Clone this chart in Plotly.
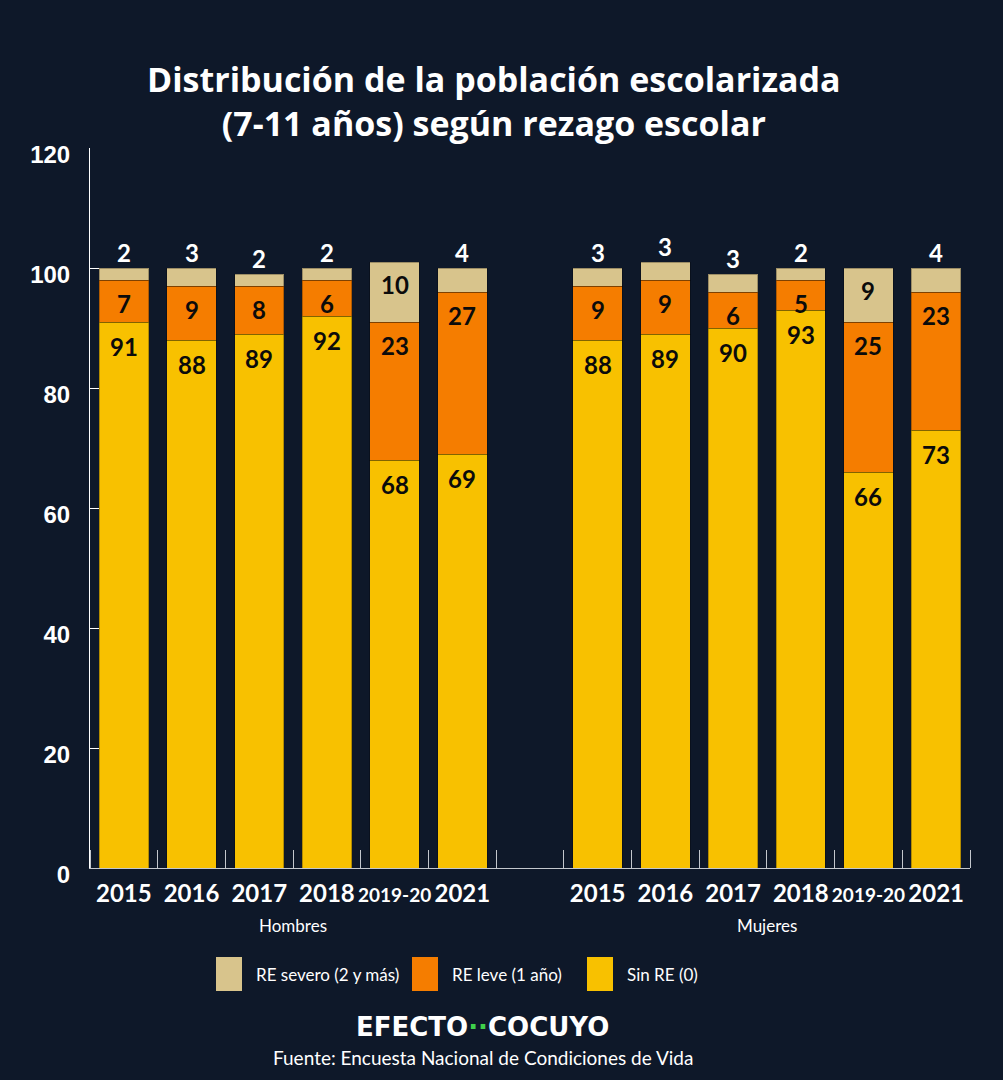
import plotly.graph_objects as go

# ---------------- data ----------------
years = ["2015", "2016", "2017", "2018", "2019-20", "2021"]
groups = ["Hombres", "Mujeres"]

series_names = ["Sin RE (0)", "RE leve (1 año)", "RE severo (2 y más)"]

hombres_sin = [91, 88, 89, 92, 68, 69]
hombres_leve = [7, 9, 8, 6, 23, 27]
hombres_severo = [2, 3, 2, 2, 10, 4]

mujeres_sin = [88, 89, 90, 93, 66, 73]
mujeres_leve = [9, 9, 6, 5, 25, 23]
mujeres_severo = [3, 3, 3, 2, 9, 4]

y_ticks = [0, 20, 40, 60, 80, 100, 120]

title_text = "Distribución de la población escolarizada<br>(7-11 años) según rezago escolar"
source_text = "Fuente: Encuesta Nacional de Condiciones de Vida"

# ---------------- style ----------------
BG = "#0e1829"
COLORS = {"Sin RE (0)": "#f8c100", "RE leve (1 año)": "#f57d00", "RE severo (2 y más)": "#d8c48c"}
AXIS_COLOR = "#c3c7cd"
FONT = "Lato"
W, H = 1003, 1080
ML, MR, MT, MB = 90, 33, 148, 212
PW, PH = W - ML - MR, H - MT - MB


def px_x(x):
    return (x - ML) / PW


def px_y(y):
    return (H - MB - y) / PH


# positions: one empty slot between the two groups
n = len(years)
x_h = [i for i in range(n)]
x_m = [i + n + 1 for i in range(n)]
xs = x_h + x_m

sin_vals = hombres_sin + mujeres_sin
leve_vals = hombres_leve + mujeres_leve
sev_vals = hombres_severo + mujeres_severo

fig = go.Figure()
for name, vals in zip(series_names, [sin_vals, leve_vals, sev_vals]):
    fig.add_trace(go.Bar(
        x=xs, y=vals, name=name,
        marker=dict(color=COLORS[name], line=dict(width=1, color="rgba(0,0,0,0.28)")),
        hoverinfo="skip", showlegend=False,
    ))

annotations = []
lab_font = dict(family=FONT, size=24, color="#0b0b0b", weight="bold")
for x, s, l, v in zip(xs, sin_vals, leve_vals, sev_vals):
    annotations.append(dict(x=x, y=s, text=str(s), showarrow=False, yanchor="top",
                            yshift=-8, font=lab_font))
    annotations.append(dict(x=x, y=s + l, text=str(l), showarrow=False, yanchor="top",
                            yshift=-7, font=lab_font))
    tot = s + l + v
    if v >= 5:
        annotations.append(dict(x=x, y=tot, text=str(v), showarrow=False, yanchor="top",
                                yshift=-6, font=lab_font))
    else:
        annotations.append(dict(x=x, y=tot, text=str(v), showarrow=False, yanchor="bottom",
                                yshift=-1, font=dict(family=FONT, size=24, color="white", weight="bold")))

# title
annotations.append(dict(x=px_x(494), xref="paper", y=px_y(101), yref="paper",
                        text=title_text, showarrow=False, xanchor="center", yanchor="middle",
                        font=dict(family="Open Sans", size=34, color="white", weight="bold")))

# group labels
for g, gx in zip(groups, [x_h, x_m]):
    annotations.append(dict(x=sum(gx) / len(gx), xref="x", y=px_y(925), yref="paper",
                            text=g, showarrow=False, yanchor="middle",
                            font=dict(family=FONT, size=17, color="white")))

# manual legend (large swatches)
shapes = []
legend_items = [("RE severo (2 y más)", 216), ("RE leve (1 año)", 412), ("Sin RE (0)", 587)]
for name, lx in legend_items:
    shapes.append(dict(type="rect", xref="paper", yref="paper",
                       x0=px_x(lx), x1=px_x(lx + 26), y0=px_y(991), y1=px_y(957),
                       fillcolor=COLORS[name], line=dict(width=0)))
    annotations.append(dict(x=px_x(lx + 38), xref="paper", y=px_y(974), yref="paper",
                            text=name, showarrow=False, xanchor="left", yanchor="middle",
                            font=dict(family=FONT, size=17, color="white")))

# logo + source
annotations.append(dict(x=px_x(482), xref="paper", y=px_y(1027), yref="paper",
                        text="EFECTO<span style='color:#3fd14b'>··</span>COCUYO",
                        showarrow=False, yanchor="middle",
                        font=dict(family="DejaVu Sans", size=26, color="white", weight="bold")))
annotations.append(dict(x=px_x(483), xref="paper", y=px_y(1057), yref="paper",
                        text=source_text, showarrow=False, yanchor="middle",
                        font=dict(family=FONT, size=19, color="white")))

ticktext = []
for g in groups:
    for yv in years:
        if len(yv) > 4:
            ticktext.append("<span style='font-size:19px'>" + yv + "</span>")
        else:
            ticktext.append(yv)

fig.update_layout(
    width=W, height=H,
    margin=dict(l=ML, r=MR, t=MT, b=MB, pad=0),
    paper_bgcolor=BG, plot_bgcolor=BG,
    barmode="stack", bargap=0.27,
    xaxis=dict(range=[-0.5, len(xs) + 0.5], tickmode="array", tickvals=xs, ticktext=ticktext,
               ticks="", showgrid=False, zeroline=False, showline=True,
               linecolor=AXIS_COLOR, linewidth=1, layer="below traces",
               tickfont=dict(family=FONT, size=24, color="white", weight="bold"),
               ticklabelstandoff=4,
               minor=dict(tickmode="array", tickvals=[i - 0.5 for i in range(len(xs) + 2)],
                          ticks="inside", ticklen=18, tickwidth=1, tickcolor=AXIS_COLOR,
                          showgrid=False)),
    yaxis=dict(range=[0, 120], tickmode="array", tickvals=y_ticks,
               ticks="inside", ticklen=20, tickwidth=1, tickcolor="white",
               showgrid=False, zeroline=False, showline=True, linecolor="white", linewidth=1,
               layer="below traces", ticklabelstandoff=14, ticklabelshift=7,
               tickfont=dict(family="Liberation Sans", size=24, color="white", weight="bold")),
    annotations=annotations, shapes=shapes,
    hovermode=False,
)

fig.write_html("out.html", config={"displayModeBar": False},
               post_script="document.body.style.margin='0';document.body.style.background='%s';" % BG)
